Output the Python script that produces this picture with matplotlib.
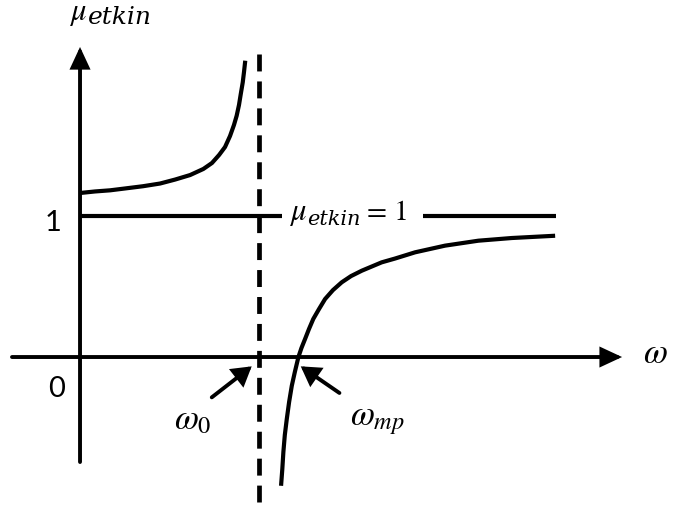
import matplotlib as mplt
import matplotlib.pyplot as plt

mplt.rcParams['mathtext.fontset'] = 'stix'
mplt.rcParams['lines.scale_dashes'] = False

# branch below the resonance (omega < omega_0)
upper_omega = [0.0, 0.084, 0.168, 0.251, 0.352, 0.447, 0.531, 0.615, 0.689, 0.737,
               0.777, 0.810, 0.838, 0.860, 0.875, 0.888, 0.898, 0.909, 0.916, 0.923]
upper_mu    = [1.159, 1.170, 1.178, 1.191, 1.207, 1.226, 1.254, 1.286, 1.329, 1.371,
               1.428, 1.484, 1.562, 1.640, 1.705, 1.781, 1.859, 1.941, 2.014, 2.094]

# branch above the resonance (omega > omega_0)
lower_omega = [1.123, 1.130, 1.136, 1.144, 1.155, 1.168, 1.183, 1.200, 1.220, 1.237,
               1.257, 1.279, 1.303, 1.335, 1.369, 1.413, 1.462, 1.514, 1.574, 1.685,
               1.760, 1.872, 2.039, 2.225, 2.412, 2.654]
lower_mu    = [-0.910, -0.792, -0.671, -0.551, -0.438, -0.318, -0.203, -0.106, 0.0, 0.064,
               0.127, 0.198, 0.269, 0.339, 0.410, 0.473, 0.528, 0.572, 0.610, 0.669,
               0.696, 0.740, 0.787, 0.822, 0.841, 0.857]

omega_0   = 1.0
omega_mp  = 1.22
mu_one    = 1.0
omega_end = 2.66

lw = 3.0
fig = plt.figure(figsize=(6.74, 5.10), dpi=100)
ax = fig.add_axes([0, 0, 1, 1])
ax.set_xlim(-0.447, 3.318)
ax.set_ylim(-1.074, 2.530)
ax.axis('off')

def arrow(tail, tip, hl, hw, lw_=lw):
    ax.annotate("", xy=tip, xytext=tail,
                arrowprops=dict(arrowstyle="-|>,head_length=%g,head_width=%g" % (hl, hw),
                                lw=lw_, color='k', shrinkA=0, shrinkB=0,
                                mutation_scale=20, joinstyle='miter'))

def mu_label(x, y, xs, ys, size=22, sub_size=16):
    # mu with a wide italic subscript
    ax.text(x, y, r'$\mu$', fontsize=size, ha='left', va='baseline')
    ax.text(xs, ys, 'etkin', fontsize=sub_size, family='DejaVu Serif', style='italic',
            ha='left', va='baseline')

# axes with arrows
arrow((-0.380, 0.0), (3.028, 0.0), 0.58, 0.27, 2.8)
arrow((0.0, -0.742), (0.0, 2.191), 0.58, 0.27, 2.8)

# asymptote at omega_0
ax.plot([omega_0, omega_0], [2.141, -1.025], color='k', lw=3.4, dashes=(12.2, 7.2),
        solid_capstyle='butt', dash_capstyle='butt')

# mu = 1 reference line with a gap for its label
ax.plot([0.0, 1.128], [mu_one, mu_one], color='k', lw=lw, solid_capstyle='butt')
ax.plot([1.916, omega_end], [mu_one, mu_one], color='k', lw=lw, solid_capstyle='butt')

ax.plot(upper_omega, upper_mu, color='k', lw=lw, solid_capstyle='butt', solid_joinstyle='round')
ax.plot(lower_omega, lower_mu, color='k', lw=lw, solid_capstyle='butt', solid_joinstyle='round')

# pointers to omega_0 and omega_mp
arrow((0.736, -0.285), (omega_0 - 0.041, -0.066), 0.5, 0.3, 2.8)
arrow((1.449, -0.254), (omega_mp + 0.013, -0.066), 0.5, 0.3, 2.8)

mu_label(-0.061, 2.389, 0.045, 2.360, sub_size=18)
mu_label(1.168, 0.975, 1.268, 0.940, sub_size=15)
ax.text(1.605, 0.975, '= 1', fontsize=21, family='STIXGeneral', ha='left', va='baseline')

ax.text(3.212, 0.035, r'$\omega$', fontsize=25, ha='center', va='center')
ax.text(0.631, -0.431, r'$\omega_0$', fontsize=25, ha='center', va='center')
ax.text(1.659, -0.438, r'$\omega_{mp}$', fontsize=25, ha='center', va='center')
ax.text(-0.151, 0.955, '1', fontsize=21, family='Lato', ha='center', va='center')
ax.text(-0.131, -0.219, '0', fontsize=21, family='Lato', ha='center', va='center')

fig.savefig("out.png", dpi=100)
